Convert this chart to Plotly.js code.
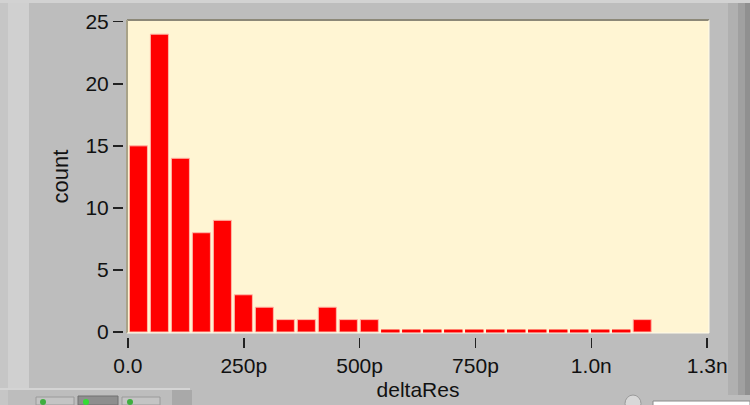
<!DOCTYPE html>
<html>
<head>
<meta charset="utf-8">
<script src="https://cdn.plot.ly/plotly-3.0.1.min.js"></script>
<style>
html,body{margin:0;padding:0;background:#bdbdbd;}
#chart{width:750px;height:405px;}
</style>
</head>
<body>
<div id="chart"></div>
<script>
// Histogram of deltaRes (x in picounits), 25 bins
const binWidth = 45.3;          // bin width in p
const counts = [15, 24, 14, 8, 9, 3, 2, 1, 1, 2, 1, 1,
                0, 0, 0, 0, 0, 0, 0, 0, 0, 0, 0, 0, 1];
const xTickVals = [0, 250, 500, 750, 1000, 1250];
const xTickText = ["0.0", "250p", "500p", "750p", "1.0n", "1.3n"];
const yTickVals = [0, 5, 10, 15, 20, 25];
const xTitle = "deltaRes";
const yTitle = "count";

const centers = counts.map((c, i) => (i + 0.5) * binWidth);

// zero-count bins drawn as thin dashes on the baseline
const zx = [], zy = [];
counts.forEach((c, i) => {
  if (c === 0) {
    zx.push(i * binWidth + binWidth * 0.06, (i + 1) * binWidth - binWidth * 0.06, null);
    zy.push(0, 0, null);
  }
});

const font = {family: "Liberation Sans, Arial, sans-serif", size: 21, color: "#111"};
const yTitleFont = {family: "Liberation Sans, Arial, sans-serif", size: 22, color: "#111"};

const traces = [
  {
    type: "bar",
    x: centers,
    y: counts,
    width: binWidth * 0.86,
    marker: {color: "#ff0000", line: {color: "#ffb8a8", width: 1}},
    hoverinfo: "skip",
    showlegend: false
  },
  {
    type: "scatter",
    mode: "lines",
    x: zx,
    y: zy,
    line: {color: "#ff0000", width: 5},
    hoverinfo: "skip",
    showlegend: false
  }
];

// paper helpers (plot region: x 123..709, y 20..337)
const PL = 123, PW = 586, PT = 20, PH = 317;
const px = p => (p - PL) / PW;
const py = q => (PT + PH - q) / PH;

const shapes = [
  // left bevel stripe
  {type: "rect", xref: "paper", yref: "paper", x0: px(0), x1: px(8), y0: py(405), y1: py(0), fillcolor: "#c6c6c6", line: {width: 0}, layer: "below"},
  {type: "rect", xref: "paper", yref: "paper", x0: px(8), x1: px(29), y0: py(389), y1: py(0), fillcolor: "#d0d0d0", line: {width: 0}, layer: "below"},
  // right dark gradient
  {type: "rect", xref: "paper", yref: "paper", x0: px(728), x1: px(738), y0: py(395), y1: py(0), fillcolor: "#b0b0b0", line: {width: 0}, layer: "below"},
  {type: "rect", xref: "paper", yref: "paper", x0: px(738), x1: px(745), y0: py(395), y1: py(0), fillcolor: "#a0a0a0", line: {width: 0}, layer: "below"},
  {type: "rect", xref: "paper", yref: "paper", x0: px(745), x1: px(750), y0: py(395), y1: py(0), fillcolor: "#909090", line: {width: 0}, layer: "below"},
  // top light band
  {type: "rect", xref: "paper", yref: "paper", x0: px(0), x1: px(750), y0: py(3), y1: py(0), fillcolor: "#d2d2d2", line: {width: 0}, layer: "below"},
  // bottom divider line
  {type: "line", xref: "paper", yref: "paper", x0: px(0), x1: px(190), y0: py(389), y1: py(389), line: {color: "#d4d4d4", width: 2}, layer: "below"},
  // palette buttons bottom-left
  {type: "rect", xref: "paper", yref: "paper", x0: px(36), x1: px(74), y0: py(405), y1: py(397), fillcolor: "#c4c4c4", line: {color: "#9a9a9a", width: 1}, layer: "below"},
  {type: "rect", xref: "paper", yref: "paper", x0: px(78), x1: px(118), y0: py(405), y1: py(396), fillcolor: "#8e8e8e", line: {color: "#707070", width: 1}, layer: "below"},
  {type: "rect", xref: "paper", yref: "paper", x0: px(122), x1: px(160), y0: py(405), y1: py(397), fillcolor: "#c4c4c4", line: {color: "#9a9a9a", width: 1}, layer: "below"},
  {type: "circle", xref: "paper", yref: "paper", x0: px(40), x1: px(46), y0: py(405), y1: py(399), fillcolor: "#3fae3f", line: {width: 0}, layer: "below"},
  {type: "circle", xref: "paper", yref: "paper", x0: px(83), x1: px(89), y0: py(405), y1: py(399), fillcolor: "#33dd33", line: {width: 0}, layer: "below"},
  {type: "circle", xref: "paper", yref: "paper", x0: px(127), x1: px(133), y0: py(405), y1: py(399), fillcolor: "#3fae3f", line: {width: 0}, layer: "below"},
  {type: "rect", xref: "paper", yref: "paper", x0: px(172), x1: px(192), y0: py(405), y1: py(390), fillcolor: "#a9a9a9", line: {width: 0}, layer: "below"},
  // bottom-right white box and round icon
  {type: "rect", xref: "paper", yref: "paper", x0: px(653), x1: px(750), y0: py(406), y1: py(401), fillcolor: "#ffffff", line: {color: "#8a8a8a", width: 1}, layer: "below"},
  {type: "circle", xref: "paper", yref: "paper", x0: px(625), x1: px(641), y0: py(412), y1: py(395), fillcolor: "#d8d8d8", line: {color: "#9a9a9a", width: 1}, layer: "below"},
  // inset frame of plot area
  {type: "line", xref: "x domain", yref: "y domain", x0: 0, x1: 1, y0: 1, y1: 1, line: {color: "#8c8878", width: 2}},
  {type: "line", xref: "x domain", yref: "y domain", x0: 0, x1: 0, y0: 0, y1: 1, line: {color: "#a8a288", width: 2}},
  {type: "line", xref: "x domain", yref: "y domain", x0: 1, x1: 1, y0: 0, y1: 1, line: {color: "#fffbea", width: 1}},
  {type: "line", xref: "x domain", yref: "y domain", x0: 0, x1: 1, y0: 0, y1: 0, line: {color: "#fffbea", width: 1}}
];

const layout = {
  width: 750,
  height: 405,
  margin: {l: PL, r: 750 - PL - PW, t: PT, b: 405 - PT - PH, pad: 0},
  paper_bgcolor: "#bdbdbd",
  plot_bgcolor: "#fff5d3",
  font: font,
  showlegend: false,
  bargap: 0,
  xaxis: {
    domain: [4 / PW, 1],
    anchor: "free",
    position: 0,
    range: [-2, 1254],
    tickmode: "array",
    tickvals: xTickVals,
    ticktext: xTickText,
    ticks: "outside",
    ticklen: 10,
    tickwidth: 1.5,
    tickcolor: "#222",
    showgrid: false,
    zeroline: false,
    showline: false,
    tickfont: font,
    title: {text: xTitle, font: font, standoff: 6},
    fixedrange: true
  },
  yaxis: {
    domain: [4 / PH, 1],
    anchor: "free",
    position: 0,
    range: [-0.08, 25.14],
    tickmode: "array",
    tickvals: yTickVals,
    ticks: "outside",
    ticklen: 10,
    tickwidth: 1.5,
    tickcolor: "#222",
    showgrid: false,
    zeroline: false,
    showline: false,
    tickfont: font,
    title: {text: yTitle, font: yTitleFont, standoff: 9},
    fixedrange: true
  },
  shapes: shapes
};

Plotly.newPlot("chart", traces, layout, {displayModeBar: false, staticPlot: true});
</script>
</body>
</html>
